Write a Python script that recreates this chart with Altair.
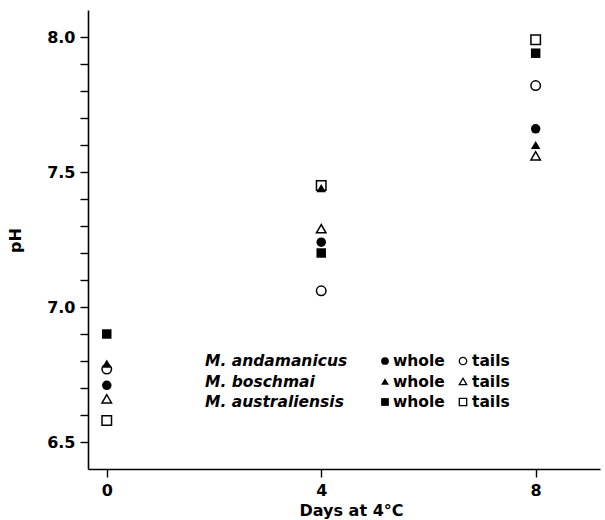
import altair as alt
import pandas as pd

# ---- data ----
days = [0, 4, 8]
species = ["M. andamanicus", "M. boschmai", "M. australiensis"]
parts = ["whole", "tails"]
andamanicus_whole = [6.71, 7.24, 7.66]
andamanicus_tails = [6.77, 7.06, 7.82]
boschmai_whole = [6.79, 7.44, 7.60]
boschmai_tails = [6.66, 7.29, 7.56]
australiensis_whole = [6.90, 7.20, 7.94]
australiensis_tails = [6.58, 7.45, 7.99]
y_tick_values = [6.5, 6.6, 6.7, 6.8, 6.9, 7.0, 7.1, 7.2, 7.3, 7.4, 7.5, 7.6, 7.7, 7.8, 7.9, 8.0]
y_tick_labels = ["6.5", "7.0", "7.5", "8.0"]
x_tick_values = [0, 4, 8]

series = {
    ("M. andamanicus", "whole"): andamanicus_whole,
    ("M. andamanicus", "tails"): andamanicus_tails,
    ("M. boschmai", "whole"): boschmai_whole,
    ("M. boschmai", "tails"): boschmai_tails,
    ("M. australiensis", "whole"): australiensis_whole,
    ("M. australiensis", "tails"): australiensis_tails,
}
rows = []
for (sp, part), vals in series.items():
    for d, v in zip(days, vals):
        rows.append({"day": d, "species": sp, "part": part, "ph": v})
df = pd.DataFrame(rows)

FONT = "DejaVu Sans"
shape_scale = alt.Scale(domain=species, range=["circle", "triangle-up", "square"])
x_scale = alt.Scale(domain=[-0.35, 9.2], nice=False, zero=False)
y_scale = alt.Scale(domain=[6.4, 8.1], nice=False, zero=False)

label_list = "[" + ",".join("'" + s + "'" for s in y_tick_labels) + "]"
y_axis = alt.Axis(
    values=y_tick_values,
    labelExpr=f"indexof({label_list}, format(datum.value, '.1f')) >= 0 ? format(datum.value, '.1f') : ''",
    title="pH", titleX=-73, titleY=230, titleAngle=270,
    titleAlign="center", titleBaseline="middle",
    grid=False, tickSize=8, labelPadding=5,
)
x_axis = alt.Axis(
    values=x_tick_values, format="d", title="Days at 4°C",
    titleY=41, titleX=263, titleBaseline="middle", titleAlign="center",
    grid=False, tickSize=8, labelPadding=5,
)

base = alt.Chart(df)
tails = base.transform_filter(alt.datum.part == "tails").mark_point(
    filled=True, fill="white", stroke="black", strokeWidth=1.5, size=90, opacity=1
).encode(
    x=alt.X("day:Q", scale=x_scale, axis=x_axis),
    y=alt.Y("ph:Q", scale=y_scale, axis=y_axis),
    shape=alt.Shape("species:N", scale=shape_scale, legend=None),
)
whole = base.transform_filter(alt.datum.part == "whole").mark_point(
    filled=True, color="black", size=90, opacity=1
).encode(
    x=alt.X("day:Q", scale=x_scale, axis=x_axis),
    y=alt.Y("ph:Q", scale=y_scale, axis=None),
    shape=alt.Shape("species:N", scale=shape_scale, legend=None),
)

# ---- custom legend ----
leg_df = pd.DataFrame({"species": species})
row_scale = alt.Scale(type="point", domain=species, range=[351, 392], padding=0)
leg_y = alt.Y("species:N", scale=row_scale, axis=None)
leg = alt.Chart(leg_df)
leg_names = leg.mark_text(
    align="left", baseline="middle", font=FONT, fontSize=15.5,
    fontWeight="bold", fontStyle="italic", color="black"
).encode(x=alt.value(117), y=leg_y, text="species:N")
leg_whole_sym = leg.mark_point(filled=True, color="black", size=60, opacity=1).encode(
    x=alt.value(297), y=leg_y,
    shape=alt.Shape("species:N", scale=shape_scale, legend=None))
leg_whole_txt = leg.mark_text(
    align="left", baseline="middle", font=FONT, fontSize=15.5, fontWeight="bold", color="black"
).encode(x=alt.value(305), y=leg_y, text=alt.value(parts[0]))
leg_tails_sym = leg.mark_point(
    filled=True, fill="white", stroke="black", strokeWidth=1.3, size=55, opacity=1
).encode(x=alt.value(375), y=leg_y,
         shape=alt.Shape("species:N", scale=shape_scale, legend=None))
leg_tails_txt = leg.mark_text(
    align="left", baseline="middle", font=FONT, fontSize=15.5, fontWeight="bold", color="black"
).encode(x=alt.value(384), y=leg_y, text=alt.value(parts[1]))

chart = alt.layer(
    tails, whole, leg_names, leg_whole_sym, leg_whole_txt, leg_tails_sym, leg_tails_txt
).resolve_scale(y="independent").properties(
    width=512, height=459,
    autosize=alt.AutoSizeParams(type="none"),
    padding={"left": 88, "top": 10, "right": 5, "bottom": 51},
    background="white",
).configure_view(stroke=None).configure_axis(
    domainColor="black", domainWidth=1.6, tickColor="black", tickWidth=1.4,
    labelFont=FONT, labelFontSize=16, labelFontWeight="bold", labelColor="black",
    titleFont=FONT, titleFontSize=16, titleFontWeight="bold", titleColor="black",
)

chart.save("out.html", embed_options={"renderer": "svg", "actions": False})
